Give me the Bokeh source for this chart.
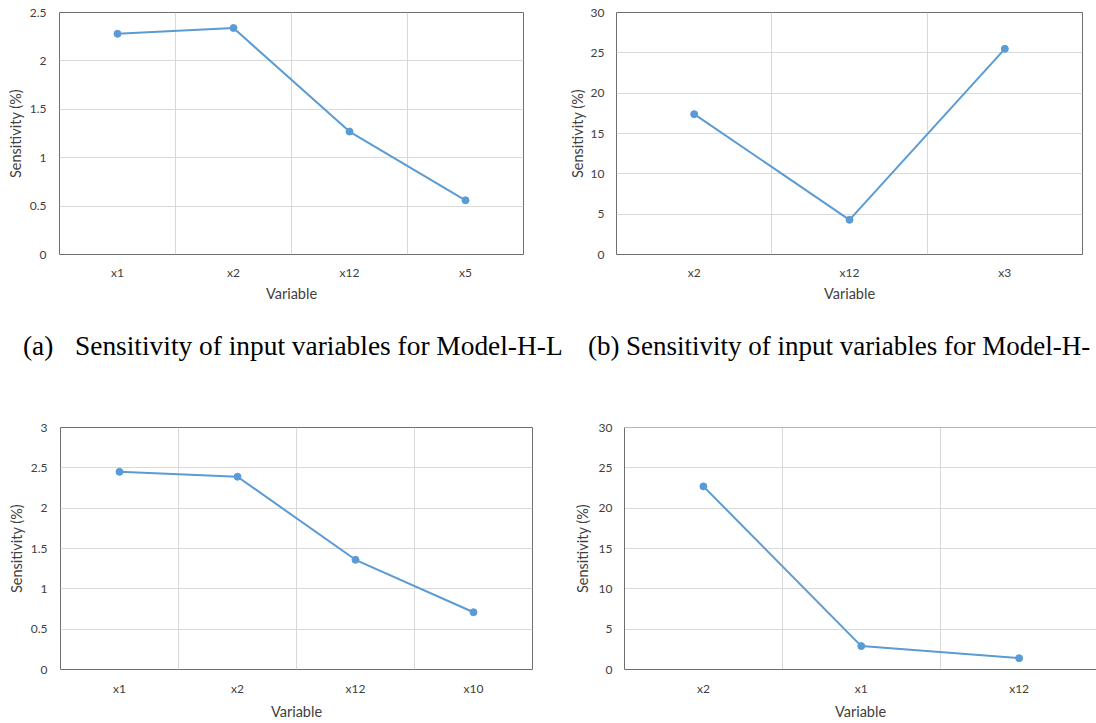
from bokeh.plotting import figure
from bokeh.models import FixedTicker, Div, Span, Range1d
from bokeh.layouts import column, row
from bokeh.embed import file_html
from bokeh.resources import INLINE

# ---------------- data ----------------
cats_a = ["x1", "x2", "x12", "x5"]
vals_a = [2.28, 2.34, 1.27, 0.56]

cats_b = ["x2", "x12", "x3"]
vals_b = [17.4, 4.3, 25.5]

cats_c = ["x1", "x2", "x12", "x10"]
vals_c = [2.45, 2.39, 1.36, 0.71]

cats_d = ["x2", "x1", "x12"]
vals_d = [22.7, 2.9, 1.4]

yticks_a = [0, 0.5, 1, 1.5, 2, 2.5]
ylabels_a = ["0", "0.5", "1", "1.5", "2", "2.5"]
yticks_c = [0, 0.5, 1, 1.5, 2, 2.5, 3]
ylabels_c = ["0", "0.5", "1", "1.5", "2", "2.5", "3"]
yticks_big = [0, 5, 10, 15, 20, 25, 30]
ylabels_big = ["0", "5", "10", "15", "20", "25", "30"]

x_title = "Variable"
y_title = "Sensitivity (%)"
cap_a_tag = "(a)"
cap_a_text = "Sensitivity of input variables for Model-H-L"
cap_b_tag = "(b)"
cap_b_text = "Sensitivity of input variables for Model-H-"

# ---------------- style ----------------
LINE = "#5B9BD5"
GRID = "#D9D9D9"
FRAME = "#6E6E6E"
TXT = "#404040"
FONT = "Lato"


def panel(cats, vals, yticks, ylabels, width, height, bl, br, bt, bb,
          x_end=None, open_right=False, ystand=13, ytitle_stand=3,
          xstand=10, xtitle_stand=4):
    n = len(cats)
    xs = [i + 0.5 for i in range(n)]
    p = figure(width=width, height=height,
               x_range=Range1d(0, x_end if x_end else n),
               y_range=Range1d(yticks[0], yticks[-1]),
               output_backend="svg", toolbar_location=None,
               min_border_left=bl, min_border_right=br,
               min_border_top=bt, min_border_bottom=bb)
    p.background_fill_color = "white"
    p.border_fill_color = "white"

    # grid: vertical lines between categories, horizontal at y ticks
    p.xgrid.ticker = FixedTicker(ticks=list(range(1, n)))
    p.ygrid.ticker = FixedTicker(ticks=yticks)
    for g in (p.xgrid, p.ygrid):
        g.grid_line_color = GRID
        g.grid_line_width = 1

    # axes
    p.xaxis.ticker = FixedTicker(ticks=xs)
    p.xaxis.major_label_overrides = {float(x): c for x, c in zip(xs, cats)}
    p.yaxis.ticker = FixedTicker(ticks=yticks)
    p.yaxis.major_label_overrides = {float(t): l for t, l in zip(yticks, ylabels)}
    p.xaxis.axis_label = x_title
    p.yaxis.axis_label = y_title
    for ax in (p.xaxis, p.yaxis):
        ax.major_tick_in = 0
        ax.major_tick_out = 0
        ax.minor_tick_in = 0
        ax.minor_tick_out = 0
        ax.major_tick_line_color = None
        ax.minor_tick_line_color = None
        ax.major_label_text_font = FONT
        ax.major_label_text_font_size = "12px"
        ax.major_label_text_color = TXT
        ax.axis_label_text_font = FONT
        ax.axis_label_text_font_size = "14.5px"
        ax.axis_label_text_font_style = "normal"
        ax.axis_label_text_color = TXT
    p.xaxis.major_label_standoff = xstand
    p.xaxis.axis_label_standoff = xtitle_stand
    p.yaxis.major_label_standoff = ystand
    p.yaxis.axis_label_standoff = ytitle_stand

    if open_right:
        p.outline_line_color = None
        for ax in (p.xaxis, p.yaxis):
            ax.axis_line_color = FRAME
            ax.axis_line_width = 1
        p.add_layout(Span(location=yticks[-1], dimension="width",
                          line_color=FRAME, line_width=1))
    else:
        p.outline_line_color = FRAME
        p.outline_line_width = 1
        for ax in (p.xaxis, p.yaxis):
            ax.axis_line_color = None

    p.line(xs, vals, line_color=LINE, line_width=2)
    p.scatter(xs, vals, size=7, marker="circle", fill_color=LINE, line_color=LINE)
    return p


# top row: page y 0..310
pa = panel(cats_a, vals_a, yticks_a, ylabels_a, 550, 310, 59, 27, 10, 56,
           xtitle_stand=2)
pb = panel(cats_b, vals_b, yticks_big, ylabels_big, 546, 310, 66, 14, 12, 56,
           ystand=12, ytitle_stand=2, xtitle_stand=2)

# caption: page y 310..404
span_a = ("position:absolute;top:21px;left:{}px;font-family:'Liberation Serif';"
          "font-size:27.4px;line-height:30px;white-space:nowrap;color:#000;")
span_b = ("position:absolute;top:21px;left:{}px;font-family:'Liberation Serif';"
          "font-size:27px;line-height:30px;white-space:nowrap;color:#000;")
cap_html = (
    '<div style="position:relative;width:1096px;height:94px;overflow:hidden;">'
    f'<span style="{span_a.format(23)}">{cap_a_tag}</span>'
    f'<span style="{span_a.format(75)}">{cap_a_text}</span>'
    f'<span style="{span_b.format(588)}">{cap_b_tag}</span>'
    f'<span style="{span_b.format(626)}">{cap_b_text}</span>'
    '</div>'
)
caption = Div(text=cap_html, width=1096, height=94, margin=0)

# bottom row: page y 404..722
pc = panel(cats_c, vals_c, yticks_c, ylabels_c, 550, 318, 60, 18, 23, 52,
           xstand=11, xtitle_stand=4)
pd = panel(cats_d, vals_d, yticks_big, ylabels_big, 546, 318, 74, 0, 21, 52,
           x_end=2.99, open_right=True, ystand=12, ytitle_stand=5,
           xstand=11, xtitle_stand=4)

layout = column(row(pa, pb), caption, row(pc, pd))

open("out.html", "w").write(file_html(layout, INLINE))
